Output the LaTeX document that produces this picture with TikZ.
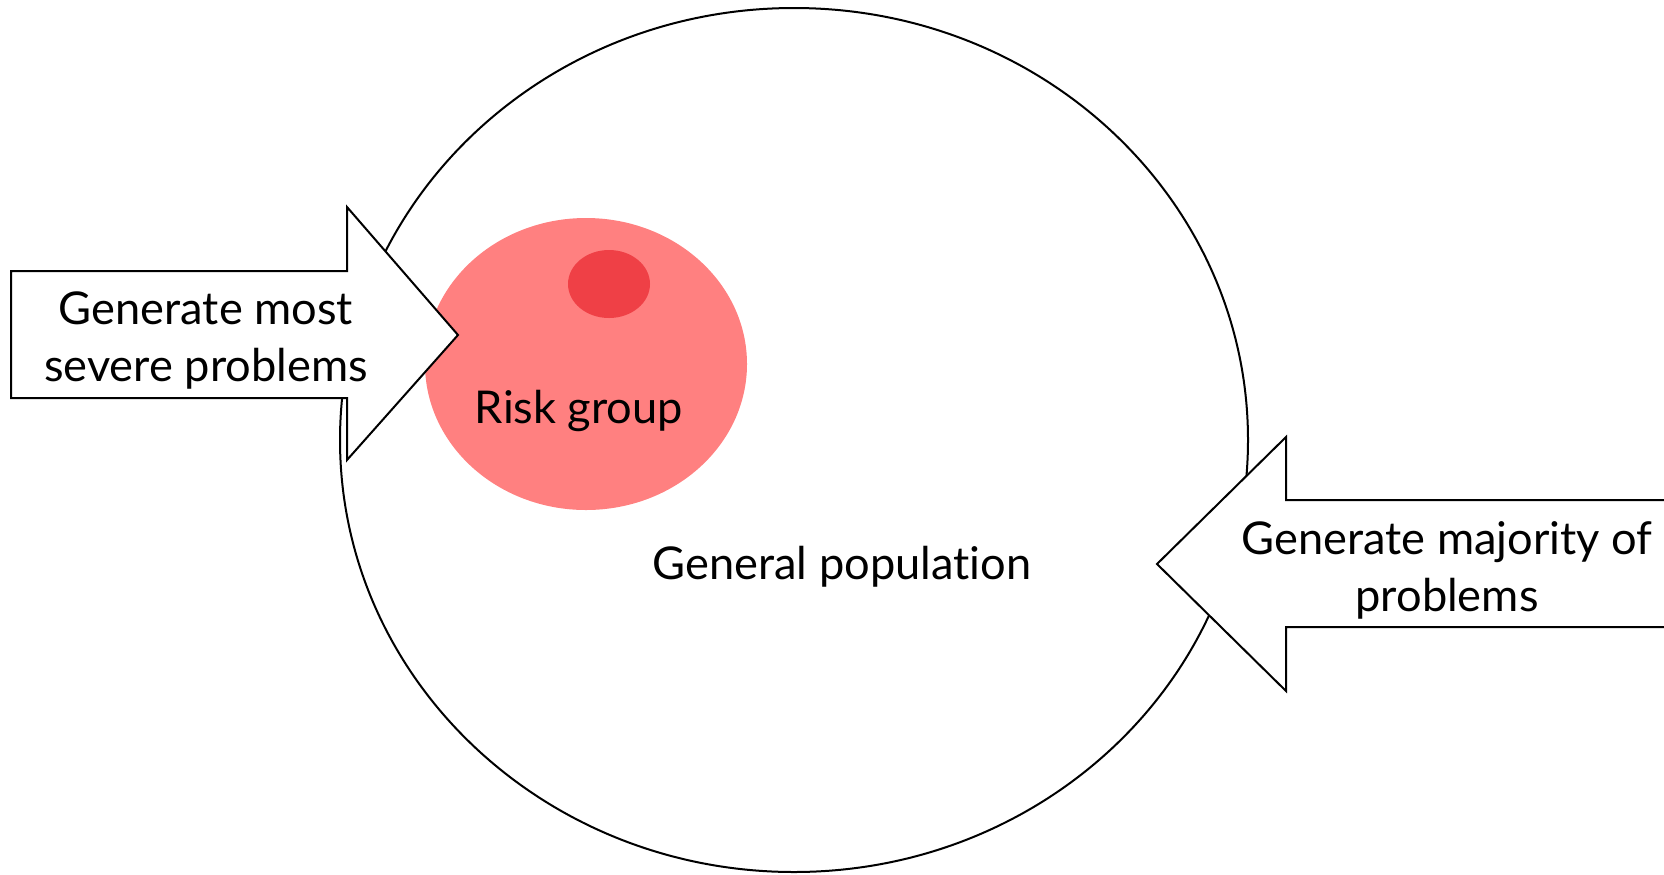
\documentclass[tikz,border=0pt]{standalone}
\usepackage{fontspec}
\setmainfont[Ligatures=NoCommon]{Lato}
\definecolor{riskpink}{RGB}{255,128,128}
\definecolor{riskdark}{RGB}{239,64,70}
\begin{document}
\begin{tikzpicture}[x=0.5pt,y=-0.5pt,
  outline/.style={draw=black,line width=1pt},
  blockarrow/.style={draw=black,line width=1pt,fill=white,line join=miter},
  label/.style={font=\fontsize{22.6}{28.5}\selectfont,align=center,inner sep=0pt}]
\clip (0,0) rectangle (1664,874);
% general population
\draw[outline] (794,440) ellipse [x radius=454, y radius=432];
% risk group
\fill[riskpink] (586,364) ellipse [x radius=161, y radius=146];
\fill[riskdark] (609,284) ellipse [x radius=41, y radius=34];
% left arrow
\draw[blockarrow] (11,271) -- (347,271) -- (347,207) -- (458,335) -- (347,460) -- (347,398) -- (11,398) -- cycle;
% right arrow
\draw[blockarrow] (1700,500) -- (1286,500) -- (1286,437) -- (1157,564) -- (1286,691) -- (1286,627) -- (1700,627) -- cycle;
% texts
\node[label] (severe) at (206,340) {Generate most\\severe problems};
\node[label] (risk) at (579,411) {Risk group};
\node[label] (gen) at (842,567) {General population};
\node[label] (major) at (1447,570) {Generate majority of\\problems};
\end{tikzpicture}
\end{document}
